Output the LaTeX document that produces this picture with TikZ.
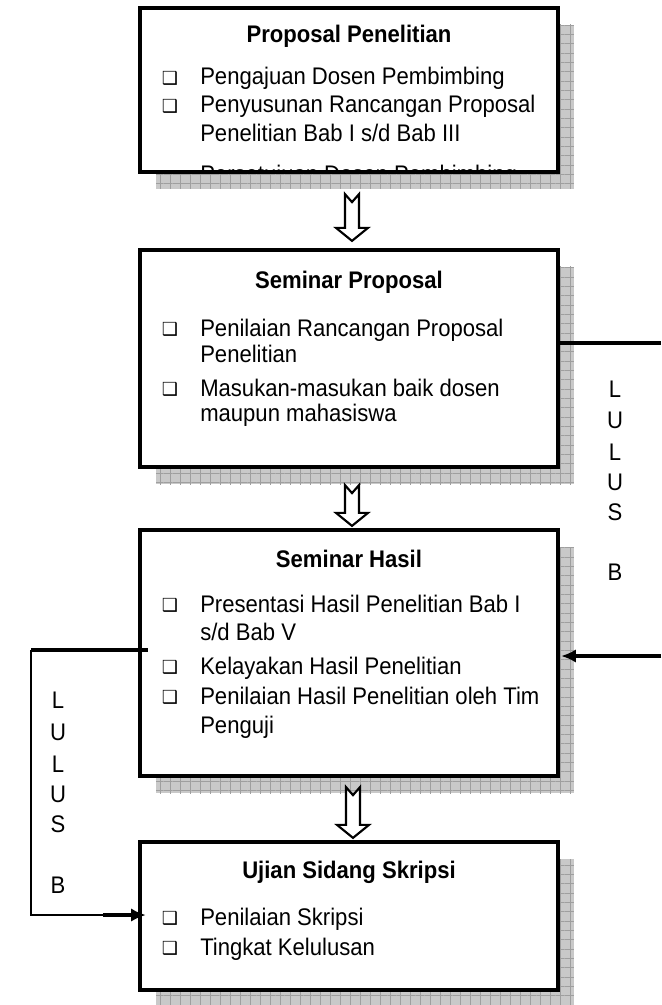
\documentclass[tikz,border=0pt]{standalone}
\usepackage{fontspec}
\setmainfont{Liberation Sans}[FakeStretch=0.92]
\newfontfamily\symfont{DejaVu Sans}
\usetikzlibrary{calc,fit,patterns.meta,arrows.meta}

% Looks of boxes, texts and connectors
\tikzset{
  box/.style={draw, line width=3.2pt, fill=white, inner sep=0pt},
  title/.style={font=\fontsize{18}{21}\selectfont\bfseries, anchor=base, inner sep=0pt},
  item/.style={font=\fontsize{18}{21}\selectfont, anchor=base west, inner sep=0pt},
  chk/.style={font=\symfont\fontsize{13.5}{13.5}\selectfont, inner sep=0pt},
  letter/.style={font=\fontsize{18}{18}\selectfont, anchor=base, inner sep=0pt},
  link/.style={line width=2.4pt},
  hollow/.style={draw, fill=white, line width=1.6pt, line join=miter},
}

% Grey grid shadow below and right of a box
\newcommand{\boxshadow}[2]{%
  \fill[gray!42] ($(#1)+(16,17)$) rectangle ($(#2)+(16,17)$);
  \fill[pattern={Lines[angle=90,distance=7.5pt,line width=0.5pt]}, pattern color=gray!75]
    ($(#1)+(16,17)$) rectangle ($(#2)+(16,17)$);
  \fill[pattern={Lines[angle=0,distance=7pt,line width=0.5pt]}, pattern color=gray!75]
    ($(#1)+(16,17)$) rectangle ($(#2)+(16,17)$);
}

% Hollow arrow from top point to tip
\newcommand{\hollowarrow}[2]{%
  \draw[hollow] ($(#1)+(-7,0)$) -- ($(#1)+(0,8)$) -- ($(#1)+(7,0)$)
    -- ($(#2)+(7,-13)$) -- ($(#2)+(16,-13)$) -- (#2)
    -- ($(#2)+(-16,-13)$) -- ($(#2)+(-7,-13)$) -- cycle;
}

\begin{document}
\begin{tikzpicture}[x=0.75pt, y=-0.75pt]

% Page size
\useasboundingbox (0,0) rectangle (661,1005);

% Shadows
\boxshadow{140,8}{558,172}
\boxshadow{140,250}{558,467}
\boxshadow{140,530}{558,776}
\boxshadow{140,842}{558,990}

% Boxes
\node[box, fit={(140,8) (558,172)}] (b1) {};
\node[box, fit={(140,250) (558,467)}] (b2) {};
\node[box, fit={(140,530) (558,776)}] (b3) {};
\node[box, fit={(140,842) (558,990)}] (b4) {};

% Box 1
\node[title] (h1) at (349,43) {Proposal Penelitian};
\node[chk] (c11) at (170,78) {❑};
\node[item] (t11) at (200,85) {Pengajuan Dosen Pembimbing};
\node[chk] (c12) at (170,106) {❑};
\node[item] (t12) at (200,113) {Penyusunan Rancangan Proposal};
\node[item] (t13) at (200,142) {Penelitian Bab I s/d Bab III};
\begin{scope}
  \clip (140,8) rectangle (558,170);
  \node[item] (t14) at (200,183) {Persetujuan Dosen Pembimbing};
\end{scope}

% Box 2
\node[title] (h2) at (349,288) {Seminar Proposal};
\node[chk] (c21) at (170,329) {❑};
\node[item] (t21) at (200,336) {Penilaian Rancangan Proposal};
\node[item] (t22) at (200,362) {Penelitian};
\node[chk] (c22) at (170,389) {❑};
\node[item] (t23) at (200,396) {Masukan-masukan baik dosen};
\node[item] (t24) at (200,421) {maupun mahasiswa};

% Box 3
\node[title] (h3) at (349,567) {Seminar Hasil};
\node[chk] (c31) at (170,605) {❑};
\node[item] (t31) at (200,612) {Presentasi Hasil Penelitian Bab I};
\node[item] (t32) at (200,640) {s/d Bab V};
\node[chk] (c32) at (170,667) {❑};
\node[item] (t33) at (200,674) {Kelayakan Hasil Penelitian};
\node[chk] (c33) at (170,697) {❑};
\node[item] (t34) at (200,704) {Penilaian Hasil Penelitian oleh Tim};
\node[item] (t35) at (200,733) {Penguji};

% Box 4
\node[title] (h4) at (349,878) {Ujian Sidang Skripsi};
\node[chk] (c41) at (170,918) {❑};
\node[item] (t41) at (200,925) {Penilaian Skripsi};
\node[chk] (c42) at (170,948) {❑};
\node[item] (t42) at (200,955) {Tingkat Kelulusan};

% Hollow arrows between boxes
\coordinate (a1) at ($(b1.south)+(3,20)$);
\coordinate (a1t) at ($(b2.north)+(3,-7)$);
\coordinate (a2) at ($(b2.south)+(3,16)$);
\coordinate (a2t) at ($(b3.north)+(3,-2)$);
\coordinate (a3) at ($(b3.south)+(4,9)$);
\coordinate (a3t) at ($(b4.north)+(4,-2)$);
\hollowarrow{a1}{a1t}
\hollowarrow{a2}{a2t}
\hollowarrow{a3}{a3t}

% Right side: LULUS B
\coordinate (rtop) at (661,343);
\coordinate (rbot) at (661,656);
\draw[link] ($(b2.east |- rtop)+(-3,0)$) -- (rtop);
\draw[link, -{Latex[length=11pt,width=10pt]}] (rbot) -- ($(b3.east |- rbot)+(1,0)$);
\foreach \ch/\y [count=\i] in {L/397,U/428,L/460,U/490,S/520,B/580}
  \node[letter] (r\i) at (615,\y) {\ch};

% Left side: LULUS B
\coordinate (ltop) at (31,650);
\coordinate (lbot) at (31,915);
\draw[link] ($(b3.west |- ltop)+(10,0)$) -- (ltop);
\draw[line width=1.5pt] (ltop) -- (lbot) -- ($(b4.west |- lbot)+(-35,0)$);
\draw[link, -{Latex[length=11pt,width=10pt]}] ($(b4.west |- lbot)+(-35,0)$) -- ($(b4.west |- lbot)+(8,0)$);
\foreach \ch/\y [count=\i] in {L/708,U/740,L/772,U/802,S/832,B/893}
  \node[letter] (l\i) at (58,\y) {\ch};

\end{tikzpicture}
\end{document}
